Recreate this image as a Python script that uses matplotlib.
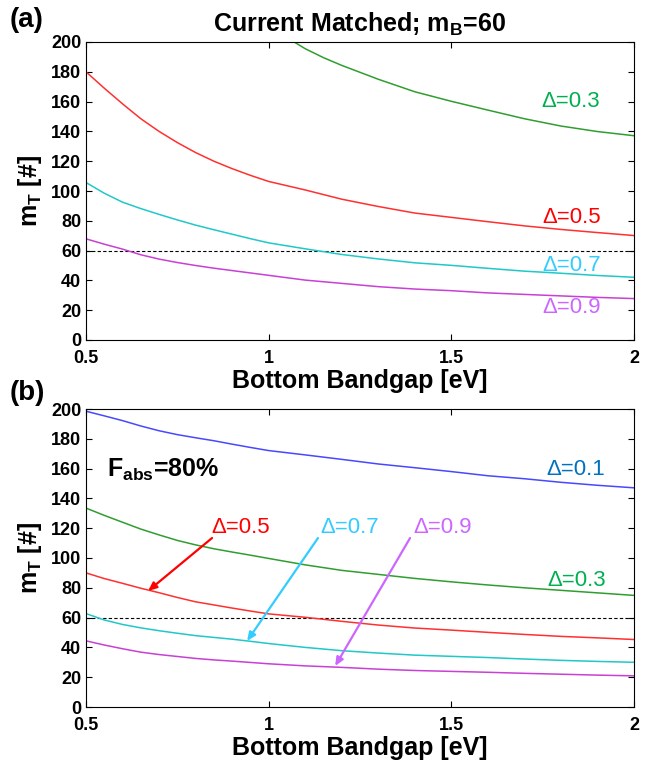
import matplotlib
matplotlib.use("Agg")
import matplotlib.pyplot as plt

# ---------------- data ----------------
bandgap = [0.5, 0.55, 0.6, 0.65, 0.7, 0.75, 0.8, 0.85, 0.9, 0.95, 1.0,
           1.1, 1.2, 1.3, 1.4, 1.5, 1.6, 1.7, 1.8, 1.9, 2.0]

# panel (a): current matched, m_B = 60
a_d03_x = [1.07, 1.1, 1.15, 1.2, 1.3, 1.4, 1.5, 1.6, 1.7, 1.8, 1.9, 2.0]
a_d03 = [200, 195.5, 189.5, 184.3, 175.0, 166.6, 160.2, 154.3, 148.5, 143.6, 139.9, 137.1]
a_d05 = [180, 169.0, 158.5, 148.5, 140.0, 132.5, 125.8, 120.0, 115.0, 110.5, 106.4,
         100.7, 94.5, 89.6, 85.2, 82.3, 79.4, 76.6, 74.2, 72.1, 70.1]
a_d07 = [105.7, 98.5, 92.5, 88.2, 84.3, 80.6, 77.1, 74.0, 71.0, 68.0, 65.2,
         61.2, 57.4, 54.4, 51.8, 50.1, 48.1, 46.2, 44.8, 43.3, 42.1]
a_d09 = [67.9, 64.3, 61.0, 57.2, 54.3, 52.0, 50.0, 48.2, 46.6, 45.0, 43.4,
         40.2, 38.0, 35.8, 34.2, 33.1, 31.6, 30.6, 29.6, 28.6, 27.8]

# panel (b): F_abs = 80 %
b_d01 = [198.5, 195.4, 192.2, 188.6, 185.4, 182.8, 180.7, 178.7, 176.4, 174.2, 172.1,
         169.2, 166.2, 163.1, 160.6, 158.0, 155.2, 153.2, 150.8, 148.8, 147.1]
b_d03 = [133.5, 128.6, 124.0, 119.4, 115.5, 111.8, 108.8, 106.2, 104.0, 101.9, 99.7,
         95.4, 91.7, 89.0, 86.3, 84.0, 81.9, 80.0, 78.3, 76.6, 74.9]
b_d05 = [90.0, 86.2, 83.0, 79.7, 76.7, 73.5, 70.6, 68.5, 66.4, 64.4, 62.5,
         60.2, 57.5, 55.0, 53.0, 51.6, 50.1, 48.7, 47.4, 46.4, 45.3]
b_d07 = [62.7, 58.4, 55.4, 53.1, 51.2, 49.5, 47.9, 46.7, 45.5, 44.1, 42.6,
         40.0, 37.8, 36.2, 34.8, 34.0, 33.2, 32.2, 31.3, 30.6, 30.0]
b_d09 = [44.4, 41.6, 39.1, 36.8, 35.2, 33.9, 32.6, 31.6, 30.8, 29.9, 29.0,
         27.6, 26.6, 25.4, 24.5, 23.9, 23.3, 22.6, 22.0, 21.4, 20.9]

m_bottom = 60
x_ticks = [0.5, 1, 1.5, 2]
x_ticklabels = ["0.5", "1", "1.5", "2"]
y_ticks = list(range(0, 201, 20))

# ---------------- style ----------------
plt.rcParams["font.family"] = ["Liberation Sans", "DejaVu Sans"]
plt.rcParams["mathtext.fontset"] = "custom"
plt.rcParams["mathtext.rm"] = "Liberation Sans:bold"
plt.rcParams["mathtext.it"] = "Liberation Sans:bold"
plt.rcParams["mathtext.bf"] = "Liberation Sans:bold"
plt.rcParams["mathtext.sf"] = "Liberation Sans:bold"

C_GREEN = "#2f9e2f"
C_RED = "#ff3030"
C_CYAN = "#20c8c8"
C_MAG = "#c840d4"
C_BLUE = "#4848ff"

L_GREEN = "#00b050"
L_RED = "#ff0000"
L_CYAN = "#33ccff"
L_VIOL = "#cc66ff"
L_BLUE = "#0070c0"

W, H = 657, 766
fig = plt.figure(figsize=(W / 100, H / 100), dpi=100)


def px_axes(left, top, right, bottom):
    return fig.add_axes([left / W, 1 - bottom / H, (right - left) / W, (bottom - top) / H])


def style(ax):
    ax.set_xlim(0.5, 2)
    ax.set_ylim(0, 200)
    ax.set_xticks(x_ticks)
    ax.set_xticklabels(x_ticklabels)
    ax.set_yticks(y_ticks)
    ax.tick_params(direction="in", top=True, right=True, length=4.5, width=0.8,
                   labelsize=13, pad=3.5)
    ax.tick_params(axis="x", pad=7.5)
    for lab in ax.get_xticklabels() + ax.get_yticklabels():
        lab.set_fontweight("bold")
    for s in ax.spines.values():
        s.set_linewidth(0.8)
    ax.set_xlabel("Bottom Bandgap [eV]", fontsize=18, fontweight="bold", labelpad=1)
    ax.set_ylabel(r"m$_{\mathrm{T}}$ [#]", fontsize=18, fontweight="bold", labelpad=5)
    ax.axhline(m_bottom, color="black", lw=0.8, ls=(0, (3, 2)), zorder=1)


lw = 1.1
# ---------------- panel (a) ----------------
ax_a = px_axes(86, 42, 634, 340)
style(ax_a)
ax_a.plot(a_d03_x, a_d03, color=C_GREEN, lw=lw)
ax_a.plot(bandgap, a_d05, color=C_RED, lw=lw)
ax_a.plot(bandgap, a_d07, color=C_CYAN, lw=lw)
ax_a.plot(bandgap, a_d09, color=C_MAG, lw=lw)
ax_a.text(1.826, 160.4, "Δ=0.3", color=L_GREEN, fontsize=16, ha="center", va="center")
ax_a.text(1.830, 81.9, "Δ=0.5", color=L_RED, fontsize=16, ha="center", va="center")
ax_a.text(1.830, 50.3, "Δ=0.7", color=L_CYAN, fontsize=16, ha="center", va="center")
ax_a.text(1.830, 21.5, "Δ=0.9", color=L_VIOL, fontsize=16, ha="center", va="center")

fig.text(360 / W, 1 - 24 / H, r"Current Matched; m$_{\mathrm{B}}$=60", fontsize=18,
         fontweight="bold", ha="center", va="center")
fig.text(27 / W, 1 - 20 / H, "(a)", fontsize=20, fontweight="bold", ha="center", va="center")

# ---------------- panel (b) ----------------
ax_b = px_axes(86, 409, 634, 707)
style(ax_b)
ax_b.plot(bandgap, b_d01, color=C_BLUE, lw=lw)
ax_b.plot(bandgap, b_d03, color=C_GREEN, lw=lw)
ax_b.plot(bandgap, b_d05, color=C_RED, lw=lw)
ax_b.plot(bandgap, b_d07, color=C_CYAN, lw=lw)
ax_b.plot(bandgap, b_d09, color=C_MAG, lw=lw)
ax_b.text(1.841, 159.1, "Δ=0.1", color=L_BLUE, fontsize=16, ha="center", va="center")
ax_b.text(1.844, 85.2, "Δ=0.3", color=L_GREEN, fontsize=16, ha="center", va="center")
ax_b.text(0.557, 154.4, r"F$_{\mathrm{abs}}$=80%", fontsize=18, fontweight="bold",
          ha="left", va="baseline")

arrows = [
    ("Δ=0.5", L_RED, (0.924, 120.8), (0.845, 113.4), (0.670, 77.9)),
    ("Δ=0.7", L_CYAN, (1.223, 120.8), (1.135, 113.4), (0.941, 44.3)),
    ("Δ=0.9", L_VIOL, (1.477, 120.8), (1.387, 113.4), (1.182, 27.5)),
]
for label, col, txy, tail, head in arrows:
    ax_b.text(txy[0], txy[1], label, color=col, fontsize=16, ha="center", va="center")
    ax_b.annotate("", xy=head, xytext=tail,
                  arrowprops=dict(arrowstyle="-|>,head_length=0.5,head_width=0.22",
                                  color=col, lw=1.6, shrinkA=0, shrinkB=0))

fig.text(27 / W, 1 - 393 / H, "(b)", fontsize=20, fontweight="bold", ha="center", va="center")

fig.savefig("out.png", dpi=100)
